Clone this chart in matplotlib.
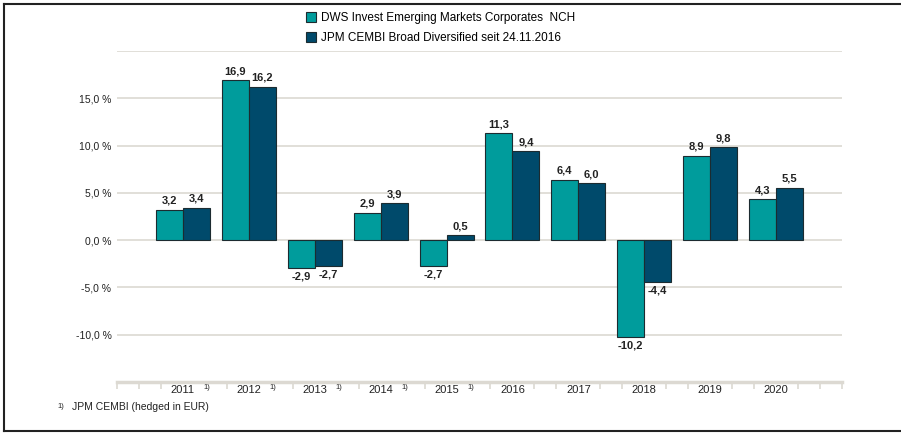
import numpy as np
import matplotlib
matplotlib.use("Agg")
import matplotlib.pyplot as plt
from matplotlib.lines import Line2D

plt.rcParams['font.family'] = ['Liberation Sans', 'DejaVu Sans']

# Data
years = ["2011", "2012", "2013", "2014", "2015", "2016", "2017", "2018", "2019", "2020"]
footnote = [True, True, True, True, True, False, False, False, False, False]
fund = [3.2, 16.9, -2.9, 2.9, -2.7, 11.3, 6.4, -10.2, 8.9, 4.3]
bench = [3.4, 16.2, -2.7, 3.9, 0.5, 9.4, 6.0, -4.4, 9.8, 5.5]
series_names = ["DWS Invest Emerging Markets Corporates  NCH",
                "JPM CEMBI Broad Diversified seit 24.11.2016"]
teal = "#009c9c"
navy = "#004a6b"
grid_col = "#dcd9d2"

fig = plt.figure(figsize=(9.01, 4.33), dpi=100)
ax = fig.add_axes([117/901, 1 - 382/433, 725/901, 331/433])

x = np.arange(1, len(years) + 1)
w = 0.41
b1 = ax.bar(x - w/2, fund, w, color=teal, edgecolor="#1c2b30", linewidth=0.8, zorder=3, label=series_names[0])
b2 = ax.bar(x + w/2, bench, w, color=navy, edgecolor="#1c2b30", linewidth=0.8, zorder=3, label=series_names[1])

fmt = lambda v: f"{v:.1f}".replace(".", ",")
ax.bar_label(b1, labels=[fmt(v) for v in fund], padding=3, fontsize=8, fontweight="bold", color="#222222")
ax.bar_label(b2, labels=[fmt(v) for v in bench], padding=3, fontsize=8, fontweight="bold", color="#222222")

ax.set_xlim(0, len(years) + 1)
ax.set_ylim(-15, 20)

# y axis
yt = list(range(-10, 25, 5))
ax.set_yticks(yt)
ax.set_yticklabels([fmt(v) + " %" if v < 20 else "" for v in yt], fontsize=7.5, color="#222222")
ax.tick_params(axis="y", length=0, pad=4)
ax.grid(axis="y", color=grid_col, linewidth=1.2, zorder=0)

# x axis
ax.set_xticks(x)
ax.set_xticklabels(years, fontsize=8, color="#222222")
ax.tick_params(axis="x", which="major", length=0, pad=2)
minor = [0, 1/3, 2/3]
for k, fn in zip(x, footnote):
    if not fn:
        minor.append(k + 1/3)
    minor.append(k + 2/3)
minor.append(len(years) + 1)
ax.set_xticks(minor, minor=True)
ax.tick_params(axis="x", which="minor", length=5, width=1.2, color=grid_col, direction="out")
for k, fn in zip(x, footnote):
    if fn:
        ax.annotate("1)", xy=(k, 0), xycoords=("data", "axes fraction"),
                    xytext=(15, -4), textcoords="offset points",
                    fontsize=5.5, ha="left", va="center", color="#222222")

for s in ["top", "right", "left"]:
    ax.spines[s].set_visible(False)
ax.spines["bottom"].set_color(grid_col)
ax.spines["bottom"].set_linewidth(2.5)

# legend
fig.legend(handles=[b1, b2], labels=series_names, loc="upper left",
           bbox_to_anchor=(306/901, 1 - 12/433), frameon=False, fontsize=8.5,
           handlelength=0.85, handleheight=0.85, handletextpad=0.45,
           labelspacing=0.7, borderpad=0, borderaxespad=0)

# footnote
fig.text(57/901, 1 - 406/433, "1)", fontsize=5.5, va="center", color="#222222")
fig.text(72/901, 1 - 407/433, "JPM CEMBI (hedged in EUR)", fontsize=7.5, va="center", color="#222222")

# frame
for line in [((4/901, 4/901), (1 - 431/433, 1 - 4/433)),
             ((4/901, 1), (1 - 4/433, 1 - 4/433)),
             ((4/901, 1), (1 - 431/433, 1 - 431/433))]:
    fig.add_artist(Line2D(line[0], line[1], color="#222222", linewidth=1.5))

fig.savefig("out.png", dpi=100)
